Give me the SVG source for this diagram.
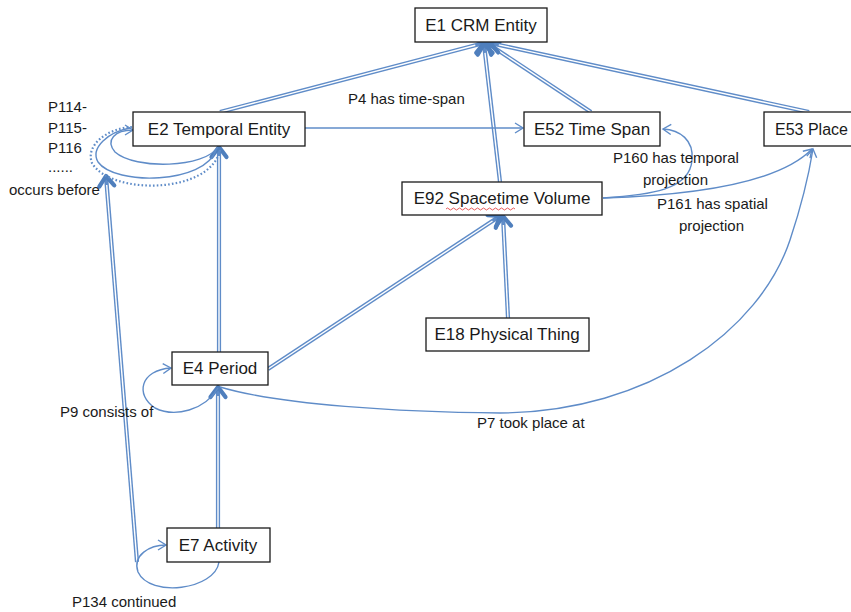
<svg xmlns="http://www.w3.org/2000/svg" width="851" height="612" viewBox="0 0 851 612">
<style>
  .box{fill:#fff;stroke:#1a1a1a;stroke-width:1.3}
  .lbl{font-family:"Liberation Sans",Arial,sans-serif;font-size:17px;fill:#1a1a1a}
  .t{font-family:"Liberation Sans",Arial,sans-serif;font-size:15px;fill:#1a1a1a}
  .dbl{fill:none;stroke:#5f8cc8;stroke-width:4.2}
  .din{fill:none;stroke:#fff;stroke-width:1.4}
  .thin{fill:none;stroke:#5f8cc8;stroke-width:1.4}
  .dot{fill:none;stroke:#5f8cc8;stroke-width:2.2;stroke-dasharray:1.6 2.2}
</style>
<defs>
  <marker id="ah" markerUnits="userSpaceOnUse" viewBox="-14 -11 18 22" refX="0" refY="0" markerWidth="18" markerHeight="22" orient="auto">
    <path d="M-10,-7.5 L0,0 L-10,7.5" fill="none" stroke="#4f7fbd" stroke-width="4.2" stroke-linecap="round" stroke-linejoin="round"/>
  </marker>
  <marker id="oa" markerUnits="userSpaceOnUse" viewBox="-10 -7 12 14" refX="0" refY="0" markerWidth="12" markerHeight="14" orient="auto">
    <path d="M-8,-5 L0,0 L-8,5" fill="none" stroke="#5f8cc8" stroke-width="1.4"/>
  </marker>
</defs>

<g id="connectors">
  <path class="dbl" d="M220,112 L484,43" marker-end="url(#ah)"/>
  <path class="din" d="M220,112 L475.3,45.3"/>
  <path class="dbl" d="M591,112 L487,43" marker-end="url(#ah)"/>
  <path class="din" d="M591,112 L494.5,48"/>
  <path class="dbl" d="M809,112 L490,43" marker-end="url(#ah)"/>
  <path class="din" d="M809,112 L498.8,44.9"/>
  <path class="dbl" d="M500,182 L484,44" marker-end="url(#ah)"/>
  <path class="din" d="M500,182 L485,52.9"/>
  <path class="dbl" d="M219,352 L219,147" marker-end="url(#ah)"/>
  <path class="din" d="M219,352 L219,156"/>
  <path class="dbl" d="M218,528 L218,387" marker-end="url(#ah)"/>
  <path class="din" d="M218,528 L218,396"/>
  <path class="dbl" d="M268,369 L500,216" marker-end="url(#ah)"/>
  <path class="din" d="M268,369 L492.5,221"/>
  <path class="dbl" d="M508,318 L503,216" marker-end="url(#ah)"/>
  <path class="din" d="M508,318 L503.4,225"/>
  <path class="dbl" d="M137,562 L106,176" marker-end="url(#ah)"/>
  <path class="din" d="M137,562 L106.7,185"/>

  <path class="thin" d="M305,128 L523,128" marker-end="url(#oa)"/>
  <path class="thin" d="M603,198 C650,195 690,190 692,160 C694,140 680,130 663,129" marker-end="url(#oa)"/>
  <path class="thin" d="M603,198 C700,195 780,182 812,149" marker-end="url(#oa)"/>
  <path class="thin" d="M220,387 C280,405 400,412 500,413 C650,412 760,330 790,240 C800,210 808,180 813,149" marker-end="url(#oa)"/>
  <path class="thin" d="M218,388 C205,410 175,418 155,408 C135,395 140,370 171,368" marker-end="url(#oa)"/>
  <path class="thin" d="M219,562 C215,590 150,598 138,572 C132,555 150,545 166,545" marker-end="url(#oa)"/>
  <path class="thin" d="M218,147 C205,168 135,170 115,152 C105,140 115,130 133,130" marker-end="url(#oa)"/>
  <path class="thin" d="M216,150 C205,184 115,186 98,162 C90,148 108,132 130,128"/>
  <path class="dot" d="M220,150 C210,195 110,195 92,163 C85,145 108,128 132,127"/>
</g>

<g id="E1"><rect class="box" x="415" y="8" width="132" height="34"/><text class="lbl" x="481" y="31" text-anchor="middle">E1 CRM Entity</text></g>
<g id="E2"><rect class="box" x="133" y="112" width="172" height="34"/><text class="lbl" x="219" y="135" text-anchor="middle">E2 Temporal Entity</text></g>
<g id="E52"><rect class="box" x="524" y="112" width="136" height="34"/><text class="lbl" x="592" y="135" text-anchor="middle">E52 Time Span</text></g>
<g id="E53"><rect class="box" x="764" y="112" width="90" height="34"/><text class="lbl" x="775" y="135" style="font-size:16px">E53 Place</text></g>
<g id="E92"><rect class="box" x="402" y="182" width="200" height="33"/><text class="lbl" x="502" y="204" text-anchor="middle">E92 Spacetime Volume</text>
  <path d="M446,209 q1.5,-2 3,0 t3,0 t3,0 t3,0 t3,0 t3,0 t3,0 t3,0 t3,0 t3,0 t3,0 t3,0 t3,0 t3,0 t3,0 t3,0 t3,0 t3,0 t3,0 t3,0 t3,0 t3,0 t3,0" fill="none" stroke="#e03030" stroke-width="0.8"/></g>
<g id="E18"><rect class="box" x="426" y="318" width="163" height="33"/><text class="lbl" x="507" y="340" text-anchor="middle">E18 Physical Thing</text></g>
<g id="E4"><rect class="box" x="172" y="352" width="96" height="33"/><text class="lbl" x="220" y="374" text-anchor="middle">E4 Period</text></g>
<g id="E7"><rect class="box" x="167" y="528" width="103" height="34"/><text class="lbl" x="218" y="551" text-anchor="middle">E7 Activity</text></g>

<g id="labels">
  <text class="t" x="348" y="104">P4 has time-span</text>
  <text class="t" x="613" y="163">P160 has temporal</text>
  <text class="t" x="643" y="185">projection</text>
  <text class="t" x="657" y="209">P161 has spatial</text>
  <text class="t" x="679" y="231">projection</text>
  <text class="t" x="477" y="428">P7 took place at</text>
  <text class="t" x="60" y="417">P9 consists of</text>
  <text class="t" x="72" y="607">P134 continued</text>
  <text class="t" x="48" y="112">P114-</text>
  <text class="t" x="48" y="133">P115-</text>
  <text class="t" x="48" y="153">P116</text>
  <text class="t" x="48" y="172">......</text>
  <text class="t" x="9" y="195">occurs before</text>
</g>
</svg>
